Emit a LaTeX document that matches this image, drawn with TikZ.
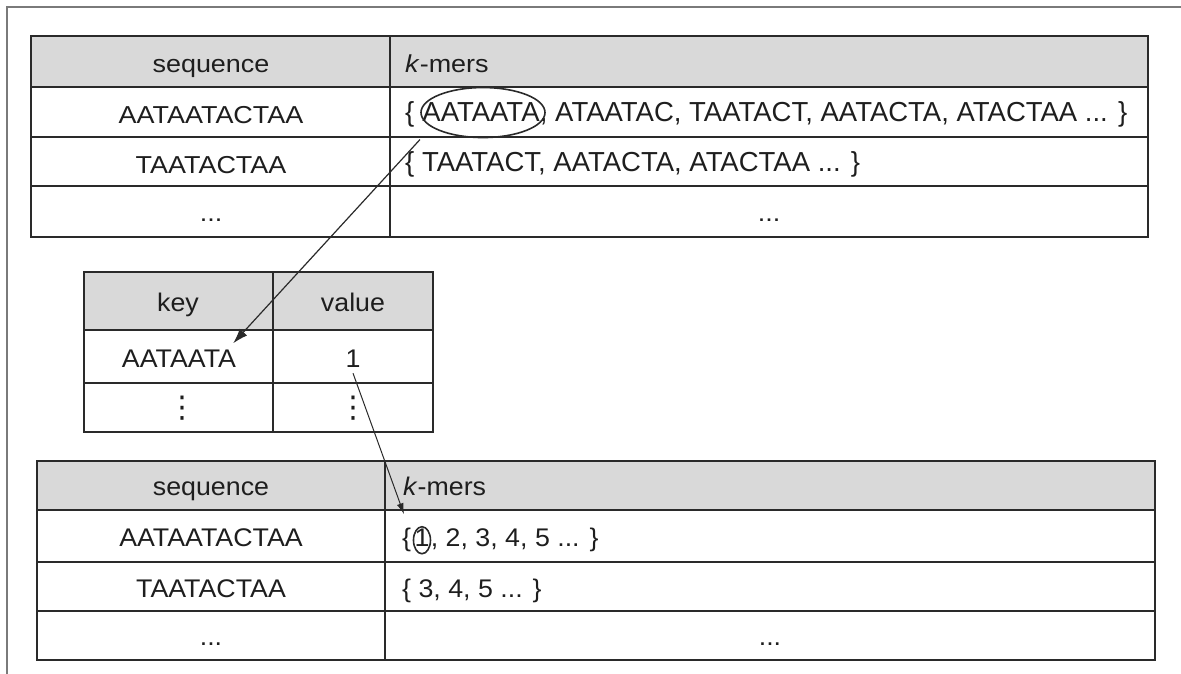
\documentclass[tikz,border=0pt]{standalone}
\usepackage{fontspec}
\setmainfont{Liberation Sans}
\newfontfamily\seqfont[FakeStretch=1.10]{Liberation Sans}
\newfontfamily\kmerfont[FakeStretch=1.0]{Liberation Sans}
\newfontfamily\mapfont[FakeStretch=1.05]{Liberation Sans}
\newfontfamily\dotsfont{DejaVu Sans}
\usetikzlibrary{shapes.geometric,arrows.meta}
\definecolor{hdrgray}{HTML}{D9D9D9}
\definecolor{rule}{HTML}{2A2A2A}
\definecolor{framegray}{HTML}{7A7A7A}
\definecolor{ink}{HTML}{1E1E1E}
\begin{document}
\begin{tikzpicture}[x=1pt,y=-1pt,
  grid/.style={draw=rule,line width=1.6pt},
  frameline/.style={draw=framegray,line width=1.3pt},
  hdr/.style={fill=hdrgray},
  txtA/.style={font=\seqfont\fontsize{24.5}{28}\selectfont,text=ink,inner sep=0pt},
  txtB/.style={font=\kmerfont\fontsize{27.5}{32}\selectfont,text=ink,inner sep=0pt},
  txtC/.style={font=\mapfont\fontsize{25.5}{30}\selectfont,text=ink,inner sep=0pt},
  vdot/.style={font=\dotsfont\fontsize{30}{34}\selectfont,text=ink,inner sep=0pt},
  ctr/.style={anchor=base},
  lft/.style={anchor=base west},
  ring/.style={ellipse,draw=rule,line width=1.6pt,inner sep=0pt},
  link/.style={draw=rule,line width=1.2pt,-{Latex[length=15pt,width=10pt]}},
  linkthin/.style={draw=rule,line width=1pt,-{Latex[length=11pt,width=7pt]}}]
\useasboundingbox (0,0) rectangle (1181,674);

% outer frame (open to the right and bottom)
\draw[frameline] (7,674) -- (7,7) -- (1181,7);

% ---- table 1: sequences and their k-mers ----
\fill[hdr] (31,36) rectangle (1148,87);
\draw[grid] (31,36) rectangle (1148,237);
\foreach \yy in {87,137,186} \draw[grid] (31,\yy) -- (1148,\yy);
\draw[grid] (390,36) -- (390,237);

\node[txtA,ctr] (s1h) at (211,73) {sequence};
\node[txtA,lft] (k1h) at (405,73) {\textit{k}-mers};
\node[txtA,ctr] (s1a) at (211,123.5) {AATAATACTAA};
\node[txtA,ctr] (s1b) at (211,173) {TAATACTAA};
\node[txtA,ctr] (s1c) at (211,221) {...};
\node[txtB,lft] (k1a) at (405,122) {\{\ \null};
\node[txtB,lft] (k1w) at (k1a.base east) {AATAATA};
\node[txtB,lft] (k1r) at (k1w.base east) {, ATAATAC, TAATACT, AATACTA, ATACTAA ... \}};
\node[txtB,lft] (k1b) at (405,171.5) {\{ TAATACT, AATACTA, ATACTAA ... \}};
\node[txtA,ctr] (k1c) at (769,221) {...};

\node[ring,minimum width=124,minimum height=50] (e1) at ([xshift=2pt]k1w.center) {};

% ---- table 2: hash map from k-mer to index ----
\fill[hdr] (84,272) rectangle (433,330);
\draw[grid] (84,272) rectangle (433,432);
\foreach \yy in {330,383} \draw[grid] (84,\yy) -- (433,\yy);
\draw[grid] (273,272) -- (273,432);

\node[txtC,ctr] (kh) at (178,311) {key};
\node[txtC,ctr] (vh) at (353,311) {value};
\node[txtC,ctr] (kv1) at (179,367) {AATAATA};
\node[txtC,ctr] (vv1) at (353,367) {1};
\node[vdot] (kv2) at (182,408) {⋮};
\node[vdot] (vv2) at (353,408) {⋮};

% ---- table 3: sequences with k-mer indices ----
\fill[hdr] (37,461) rectangle (1155,510);
\draw[grid] (37,461) rectangle (1155,660);
\foreach \yy in {510,562,611} \draw[grid] (37,\yy) -- (1155,\yy);
\draw[grid] (385,461) -- (385,660);

\node[txtC,ctr] (s3h) at (211,495) {sequence};
\node[txtC,lft] (k3h) at (403,495) {\textit{k}-mers};
\node[txtC,ctr] (s3a) at (211,546) {AATAATACTAA};
\node[txtC,ctr] (s3b) at (211,597) {TAATACTAA};
\node[txtC,ctr] (s3c) at (211,645) {...};
\node[txtC,lft] (m1a) at (402,546) {\{};
\node[txtC,lft] (m1one) at ([xshift=3pt]m1a.base east) {1};
\node[txtC,lft] (m1r) at ([xshift=1pt]m1one.base east) {, 2, 3, 4, 5 ... \}};
\node[txtC,lft] (m2) at (402,597) {\{ 3, 4, 5 ... \}};
\node[txtC,ctr] (m3) at (770,645) {...};

\node[ring,minimum width=17,minimum height=27] (e2) at ([yshift=-3pt]m1one.center) {};

% ---- lookups ----
\draw[link] ([shift={(-63,27)}]e1.center) -- ([xshift=-3pt,yshift=6pt]kv1.north east);
\draw[linkthin] ([yshift=-6pt]vv1.south) -- ([shift={(-18,-26)}]e2.center);
\end{tikzpicture}
\end{document}
